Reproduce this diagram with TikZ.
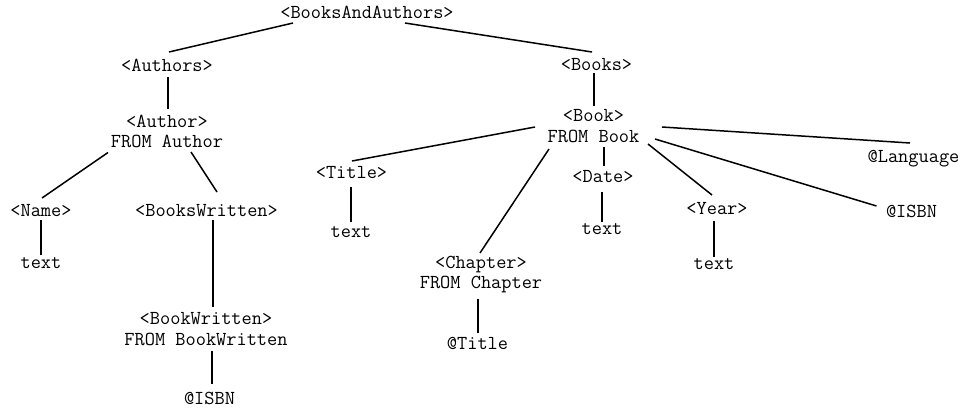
\documentclass[tikz,border=0pt]{standalone}
\begin{document}
\begin{tikzpicture}[x=1pt,y=-1pt,
  lbl/.style={font=\ttfamily\fontsize{19.8}{20.5}\selectfont, inner sep=0pt, align=center},
  link/.style={line width=1.5pt, line cap=butt}]
\useasboundingbox (0,0) rectangle (964,410);

% element and attribute labels
\node[lbl] (ba)       at (367,12)    {<BooksAndAuthors>};
\node[lbl] (authors)  at (167,65)    {<Authors>};
\node[lbl] (author)   at (167,131.5) {<Author>\\FROM Author};
\node[lbl] (name)     at (41,211)    {<Name>};
\node[lbl] (nametext) at (41,263)    {text};
\node[lbl] (bkswr)    at (206.5,211) {<BooksWritten>};
\node[lbl] (bkwr)     at (206,329)   {<BookWritten>\\FROM BookWritten};
\node[lbl] (bwisbn)   at (209.5,398) {@ISBN};
\node[lbl] (books)    at (596.5,65)  {<Books>};
\node[lbl] (book)     at (593.5,126) {<Book>\\FROM Book};
\node[lbl] (title)    at (351.5,173) {<Title>};
\node[lbl] (titletext) at (351,232)  {text};
\node[lbl] (chapter)  at (481,274.5) {<Chapter>\\FROM Chapter};
\node[lbl] (chtitle)  at (477.5,343) {@Title};
\node[lbl] (date)     at (603,177)   {<Date>};
\node[lbl] (datetext) at (602,229)   {text};
\node[lbl] (year)     at (717,209)   {<Year>};
\node[lbl] (yeartext) at (714,264)   {text};
\node[lbl] (isbn)     at (911.5,211) {@ISBN};
\node[lbl] (lang)     at (913.5,159) {@Language};

% tree links
\draw[link] ([shift={(-74,11)}]ba.center) -- ([shift={(2,-13)}]authors.center);
\draw[link] ([shift={(38,11)}]ba.center) -- ([shift={(-4.5,-13)}]books.center);
\draw[link] ([shift={(1,12)}]authors.center) -- ([shift={(1,-23)}]author.center);
\draw[link] ([shift={(-59,21)}]author.center) -- ([shift={(1,-13)}]name.center);
\draw[link] ([shift={(24,20.5)}]author.center) -- ([shift={(10.5,-19)}]bkswr.center);
\draw[link] ([shift={(0,9)}]name.center) -- ([shift={(0,-8)}]nametext.center);
\draw[link] ([shift={(6.5,9)}]bkswr.center) -- ([shift={(7,-22)}]bkwr.center);
\draw[link] ([shift={(6,22)}]bkwr.center) -- ([shift={(2.5,-14)}]bwisbn.center);
\draw[link] ([shift={(-2.5,8)}]books.center) -- ([shift={(0.5,-20)}]book.center);
\draw[link] ([shift={(-58.5,1)}]book.center) -- ([shift={(0.5,-12)}]title.center);
\draw[link] ([shift={(-0.5,14)}]title.center) -- ([shift={(0,-10)}]titletext.center);
\draw[link] ([shift={(-44.5,23)}]book.center) -- ([shift={(-1,-21.5)}]chapter.center);
\draw[link] ([shift={(10.5,21)}]book.center) -- ([shift={(1,-11)}]date.center);
\draw[link] ([shift={(-1,15)}]date.center) -- ([shift={(0,-7)}]datetext.center);
\draw[link] ([shift={(54.5,18)}]book.center) -- ([shift={(-5,-14)}]year.center);
\draw[link] ([shift={(-3,12)}]year.center) -- ([shift={(0,-7)}]yeartext.center);
\draw[link] ([shift={(61.5,13)}]book.center) -- ([shift={(-35,-5)}]isbn.center);
\draw[link] ([shift={(68.5,1)}]book.center) -- ([shift={(-3.5,-16)}]lang.center);
\draw[link] ([shift={(-3,24)}]chapter.center) -- ([shift={(0.5,-10)}]chtitle.center);
\end{tikzpicture}
\end{document}
